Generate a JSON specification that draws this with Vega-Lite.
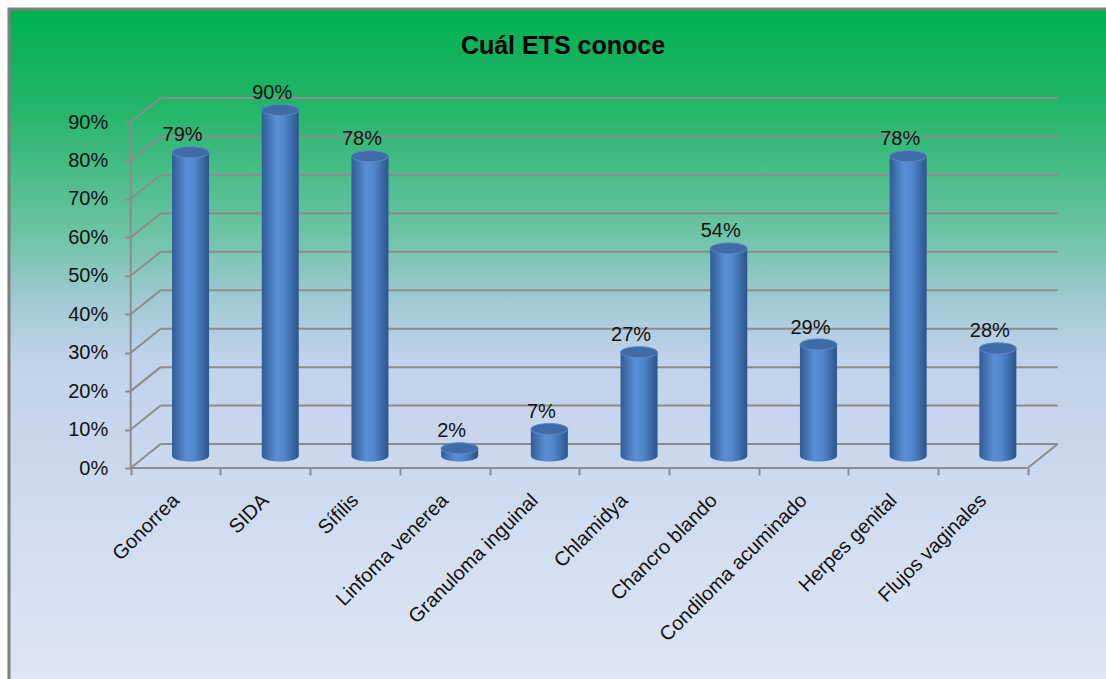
{
  "$schema": "https://vega.github.io/schema/vega-lite/v6.json",
  "width": 1100,
  "height": 674,
  "autosize": {"type": "none"},
  "padding": {"left": 9, "top": 9, "right": 0, "bottom": 0},
  "background": "#ffffff",
  "view": {
    "stroke": "#7f7f7f",
    "strokeWidth": 3,
    "fill": {
      "gradient": "linear", "x1": 0, "y1": 0, "x2": 0, "y2": 1,
      "stops": [
        {"offset": 0, "color": "#00b050"},
        {"offset": 0.15, "color": "#25b56b"},
        {"offset": 0.33, "color": "#6cc3a4"},
        {"offset": 0.44, "color": "#a4cad6"},
        {"offset": 0.52, "color": "#c1d2ea"},
        {"offset": 1, "color": "#dfe6f4"}
      ]
    }
  },
  "title": {
    "text": "Cuál ETS conoce",
    "font": "Liberation Sans",
    "fontSize": 25,
    "fontWeight": "bold",
    "color": "#000000",
    "anchor": "middle",
    "frame": "group",
    "baseline": "alphabetic",
    "offset": -70,
    "dx": 4
  },
  "datasets": {
    "ets": [
      {"cat": "Gonorrea", "v": 0.79},
      {"cat": "SIDA", "v": 0.90},
      {"cat": "Sífilis", "v": 0.78},
      {"cat": "Linfoma venerea", "v": 0.02},
      {"cat": "Granuloma inguinal", "v": 0.07},
      {"cat": "Chlamidya", "v": 0.27},
      {"cat": "Chancro blando", "v": 0.54},
      {"cat": "Condiloma acuminado", "v": 0.29},
      {"cat": "Herpes genital", "v": 0.78},
      {"cat": "Flujos vaginales", "v": 0.28}
    ],
    "grid": [
      {"g": 0}, {"g": 0.1}, {"g": 0.2}, {"g": 0.3}, {"g": 0.4},
      {"g": 0.5}, {"g": 0.6}, {"g": 0.7}, {"g": 0.8}, {"g": 0.9}
    ]
  },
  "data": {"name": "ets"},
  "config": {
    "axisX": {
      "orient": "bottom",
      "offset": -215,
      "domain": false,
      "grid": false,
      "tickBand": "extent",
      "tickSize": 7,
      "tickColor": "#8c8c8c",
      "tickWidth": 2,
      "labelAngle": -45,
      "labelAlign": "right",
      "labelBaseline": "middle",
      "labelPadding": 22,
      "labelFont": "Liberation Sans",
      "labelFontSize": 20,
      "labelColor": "#111111",
      "labelOverlap": false,
      "labelLimit": 400
    },
    "axisY": {
      "orient": "left",
      "offset": -121.7,
      "domain": false,
      "grid": false,
      "tickSize": 6,
      "tickColor": "#8c8c8c",
      "tickWidth": 2,
      "labelPadding": 17,
      "labelFont": "Liberation Sans",
      "labelFontSize": 20,
      "labelColor": "#111111",
      "format": ".0%"
    }
  },
  "layer": [
    {
      "data": {"name": "grid"},
      "mark": {"type": "rule", "color": "#8c8c8c", "strokeWidth": 2, "xOffset": 30, "x2Offset": 30, "yOffset": -24},
      "encoding": {
        "x": {"datum": "Gonorrea", "type": "nominal", "bandPosition": 0, "title": null,
              "scale": {"type": "band", "domain": ["Gonorrea", "SIDA", "Sífilis", "Linfoma venerea", "Granuloma inguinal", "Chlamidya", "Chancro blando", "Condiloma acuminado", "Herpes genital", "Flujos vaginales"], "paddingInner": 0, "paddingOuter": 0, "range": [121.7, 1018.7]}},
        "x2": {"datum": "Flujos vaginales", "bandPosition": 1},
        "y": {"field": "g", "type": "quantitative", "title": null,
              "scale": {"domain": [-0.5593, 1.1941], "nice": false, "zero": false},
              "axis": {"values": [0, 0.1, 0.2, 0.3, 0.4, 0.5, 0.6, 0.7, 0.8, 0.9], "title": null}}
      }
    },
    {
      "data": {"name": "grid"},
      "mark": {"type": "rule", "color": "#8c8c8c", "strokeWidth": 2, "x2Offset": 30, "y2Offset": -24},
      "encoding": {
        "x": {"datum": "Gonorrea", "type": "nominal", "bandPosition": 0, "title": null},
        "x2": {"datum": "Gonorrea", "bandPosition": 0},
        "y": {"field": "g", "type": "quantitative", "title": null},
        "y2": {"field": "g"}
      }
    },
    {
      "data": {"values": [{"z": 0}]},
      "mark": {"type": "rule", "color": "#8c8c8c", "strokeWidth": 2, "x2Offset": 30, "y2Offset": -24},
      "encoding": {
        "x": {"datum": "Flujos vaginales", "type": "nominal", "bandPosition": 1, "title": null},
        "x2": {"datum": "Flujos vaginales", "bandPosition": 1},
        "y": {"field": "z", "type": "quantitative", "title": null},
        "y2": {"field": "z"}
      }
    },
    {
      "data": {"values": [{"z": 0}]},
      "mark": {"type": "rule", "color": "#8c8c8c", "strokeWidth": 2},
      "encoding": {
        "x": {"datum": "Gonorrea", "type": "nominal", "bandPosition": 0, "title": null},
        "x2": {"datum": "Flujos vaginales", "bandPosition": 1},
        "y": {"field": "z", "type": "quantitative", "title": null}
      }
    },
    {
      "data": {"values": [{"z": 0, "z2": 0.9}]},
      "mark": {"type": "rule", "color": "#8c8c8c", "strokeWidth": 2},
      "encoding": {
        "x": {"datum": "Gonorrea", "type": "nominal", "bandPosition": 0, "title": null},
        "y": {"field": "z", "type": "quantitative", "title": null},
        "y2": {"field": "z2"}
      }
    },
    {
      "mark": {
        "type": "point", "filled": true, "opacity": 1, "size": 1369, "xOffset": 15, "yOffset": -12,
        "shape": "M-1,0A1,0.3 0 1,1 1,0A1,0.3 0 1,1 -1,0Z",
        "fill": {"gradient": "linear", "x1": 0, "y1": 0, "x2": 1, "y2": 0,
          "stops": [{"offset": 0, "color": "#2f5c96"}, {"offset": 0.4, "color": "#5b8fd5"}, {"offset": 0.6, "color": "#5287cc"}, {"offset": 1, "color": "#2b548c"}]}
      },
      "encoding": {
        "x": {"field": "cat", "type": "nominal", "title": null},
        "y": {"datum": 0, "type": "quantitative", "title": null}
      }
    },
    {
      "mark": {
        "type": "bar", "width": {"band": 0.4125}, "xOffset": 15, "yOffset": -12, "y2Offset": -12,
        "fill": {"gradient": "linear", "x1": 0, "y1": 0, "x2": 1, "y2": 0,
          "stops": [{"offset": 0, "color": "#2f5c96"}, {"offset": 0.4, "color": "#5b8fd5"}, {"offset": 0.6, "color": "#5287cc"}, {"offset": 1, "color": "#2b548c"}]}
      },
      "encoding": {
        "x": {"field": "cat", "type": "nominal", "title": null},
        "y": {"field": "v", "type": "quantitative", "title": null},
        "y2": {"datum": 0}
      }
    },
    {
      "mark": {
        "type": "point", "filled": true, "opacity": 1, "size": 1369, "xOffset": 15, "yOffset": -12,
        "shape": "M-1,0A1,0.3 0 1,1 1,0A1,0.3 0 1,1 -1,0Z",
        "fill": "#3f6ca8", "stroke": "#5a88c8", "strokeWidth": 1
      },
      "encoding": {
        "x": {"field": "cat", "type": "nominal", "title": null},
        "y": {"field": "v", "type": "quantitative", "title": null}
      }
    },
    {
      "mark": {
        "type": "text", "font": "Liberation Sans", "fontSize": 20, "color": "#111111",
        "baseline": "middle", "align": "center", "xOffset": 7, "yOffset": -29
      },
      "encoding": {
        "x": {"field": "cat", "type": "nominal", "title": null},
        "y": {"field": "v", "type": "quantitative", "title": null},
        "text": {"field": "v", "type": "quantitative", "format": ".0%"}
      }
    }
  ]
}
